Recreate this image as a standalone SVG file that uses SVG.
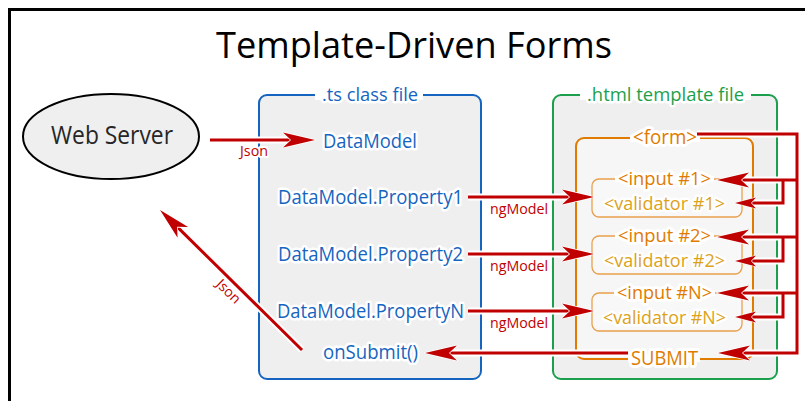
<svg xmlns="http://www.w3.org/2000/svg" width="805" height="401" viewBox="0 0 805 401">
<style>
.t{font-family:"Open Sans","Liberation Sans",sans-serif;text-anchor:middle}
.halo{paint-order:stroke;stroke:#fff;stroke-linejoin:round}
.blue{fill:#1565c0}
.green{fill:#1c9f4c}
.orange{fill:#e07b00}
.gold{fill:#dca21a}
.red{fill:#c00000}
.h{fill:none;stroke:#fff;stroke-width:7}
.c{fill:none;stroke:#c00000;stroke-width:3}
.gap{fill:#fff}
.grp{fill:#f8f8f8;stroke:#e9a04c;stroke-width:1.3}
</style>
<defs>
<marker id="big" markerUnits="userSpaceOnUse" orient="auto" refX="0" refY="0" markerWidth="40" markerHeight="20" overflow="visible">
<path d="M22,0 L-10,-7.5 L-2,0 L-10,7.5 Z" fill="#c00000" stroke="#fff" stroke-width="1.5" paint-order="stroke" stroke-linejoin="round"/>
</marker>
<marker id="small" markerUnits="userSpaceOnUse" orient="auto" refX="0" refY="0" markerWidth="30" markerHeight="16" overflow="visible">
<path d="M14,0 L-7,-5.5 L-2,0 L-7,5.5 Z" fill="#c00000" stroke="#fff" stroke-width="1.2" paint-order="stroke" stroke-linejoin="round"/>
</marker>
</defs>
<rect x="0" y="0" width="805" height="401" fill="#fff"/>
<rect x="9.5" y="9.5" width="820" height="420" fill="none" stroke="#000" stroke-width="3"/>
<text class="t" x="414" y="58" font-size="37" fill="#000" textLength="396" lengthAdjust="spacingAndGlyphs">Template-Driven Forms</text>

<g id="web-server">
<ellipse cx="111" cy="136.5" rx="88" ry="42.5" fill="#efefef" stroke="#000" stroke-width="2"/>
<text class="t" x="112" y="144" font-size="25" fill="#262626" textLength="122" lengthAdjust="spacingAndGlyphs">Web Server</text>
</g>

<g id="ts-class-file">
<rect x="259" y="95" width="222" height="284" rx="8" fill="#efefef" stroke="#1565c0" stroke-width="2"/>
<rect class="gap" x="315" y="90" width="108" height="10"/>
<text class="t blue halo" x="370" y="101" font-size="19" stroke-width="5" textLength="96" lengthAdjust="spacingAndGlyphs">.ts class file</text>
</g>

<g id="html-template-file">
<rect x="553" y="95" width="224" height="284" rx="8" fill="#efefef" stroke="#1c9f4c" stroke-width="2"/>
<rect class="gap" x="580" y="90" width="171" height="10"/>
<text class="t green halo" x="665.5" y="101" font-size="19" stroke-width="5" textLength="157" lengthAdjust="spacingAndGlyphs">.html template file</text>
</g>

<g id="form">
<rect x="576" y="138" width="177" height="221" rx="8" fill="#f6f6f6" stroke="#e07b00" stroke-width="2"/>
<rect class="gap" x="630" y="135" width="70" height="7"/>
<text class="t orange halo" x="665" y="144" font-size="20" stroke-width="6" textLength="64" lengthAdjust="spacingAndGlyphs">&lt;form&gt;</text>
</g>

<g id="group-1">
<rect class="grp" x="592" y="179" width="150" height="38" rx="7"/>
<rect class="gap" x="615" y="176" width="99" height="6"/>
<text class="t orange halo" x="664.5" y="185" font-size="19" stroke-width="6" textLength="93" lengthAdjust="spacingAndGlyphs">&lt;input #1&gt;</text>
<text class="t gold halo" x="664.5" y="210" font-size="19" stroke-width="5" textLength="121" lengthAdjust="spacingAndGlyphs">&lt;validator #1&gt;</text>
</g>
<g id="group-2">
<rect class="grp" x="592" y="236" width="150" height="38" rx="7"/>
<rect class="gap" x="615" y="233" width="99" height="6"/>
<text class="t orange halo" x="664.5" y="242" font-size="19" stroke-width="6" textLength="93" lengthAdjust="spacingAndGlyphs">&lt;input #2&gt;</text>
<text class="t gold halo" x="664.5" y="267" font-size="19" stroke-width="5" textLength="121" lengthAdjust="spacingAndGlyphs">&lt;validator #2&gt;</text>
</g>
<g id="group-n">
<rect class="grp" x="592" y="293" width="150" height="38" rx="7"/>
<rect class="gap" x="614" y="290" width="101" height="6"/>
<text class="t orange halo" x="664.5" y="299" font-size="19" stroke-width="6" textLength="95" lengthAdjust="spacingAndGlyphs">&lt;input #N&gt;</text>
<text class="t gold halo" x="664.5" y="324" font-size="19" stroke-width="5" textLength="123" lengthAdjust="spacingAndGlyphs">&lt;validator #N&gt;</text>
</g>

<g id="connectors">
<path class="h" d="M210,140 H293"/>
<path class="h" d="M468,197 H572"/>
<path class="h" d="M468,254 H572"/>
<path class="h" d="M468,311 H572"/>
<path class="h" d="M628,353 H447"/>
<path class="h" d="M302,350 L175.7,225.4"/>
<path class="h" d="M697,134 H797 V353 H740"/>
<path class="h" d="M797,180 H739 M797,237 H739 M797,293 H739"/>
<path class="h" d="M783,180 V203 H749 M783,237 V261 H749 M783,293 V317 H749"/>

<path class="c" d="M210,140 H293" marker-end="url(#big)" stroke-width="2.5"/>
<path class="c" d="M468,197 H572" marker-end="url(#big)"/>
<path class="c" d="M468,254 H572" marker-end="url(#big)"/>
<path class="c" d="M468,311 H572" marker-end="url(#big)"/>
<path class="c" d="M628,353 H447" marker-end="url(#big)"/>
<path class="c" d="M302,350 L175.7,225.4" marker-end="url(#big)" stroke-width="2.5"/>
<path class="c" d="M697,134 H797 V353 H740" marker-end="url(#big)"/>
<path class="c" d="M797,180 H739" marker-end="url(#big)"/>
<path class="c" d="M797,237 H739" marker-end="url(#big)"/>
<path class="c" d="M797,293 H739" marker-end="url(#big)"/>
<path class="c" d="M783,180 V203 H749" marker-end="url(#small)"/>
<path class="c" d="M783,237 V261 H749" marker-end="url(#small)"/>
<path class="c" d="M783,293 V317 H749" marker-end="url(#small)"/>

<text class="t red halo" x="254" y="156" font-size="14" stroke-width="4" textLength="28" lengthAdjust="spacingAndGlyphs">Json</text>
<text class="t red halo" transform="translate(228,292) rotate(44.6)" x="0" y="4" font-size="14" stroke-width="4" textLength="28" lengthAdjust="spacingAndGlyphs">Json</text>
<text class="t red halo" x="519" y="214" font-size="15" stroke-width="4" textLength="58" lengthAdjust="spacingAndGlyphs">ngModel</text>
<text class="t red halo" x="519" y="271" font-size="15" stroke-width="4" textLength="58" lengthAdjust="spacingAndGlyphs">ngModel</text>
<text class="t red halo" x="519" y="328" font-size="15" stroke-width="4" textLength="58" lengthAdjust="spacingAndGlyphs">ngModel</text>
</g>

<g id="ts-members">
<text class="t blue halo" x="370" y="148" font-size="20" stroke-width="5" textLength="94" lengthAdjust="spacingAndGlyphs">DataModel</text>
<text class="t blue halo" x="370.5" y="204" font-size="20" stroke-width="5" textLength="185" lengthAdjust="spacingAndGlyphs">DataModel.Property1</text>
<text class="t blue halo" x="370.5" y="261" font-size="20" stroke-width="5" textLength="185" lengthAdjust="spacingAndGlyphs">DataModel.Property2</text>
<text class="t blue halo" x="370.5" y="318" font-size="20" stroke-width="5" textLength="187" lengthAdjust="spacingAndGlyphs">DataModel.PropertyN</text>
<text class="t blue halo" x="370.5" y="359" font-size="20" stroke-width="5" textLength="95" lengthAdjust="spacingAndGlyphs">onSubmit()</text>
</g>

<g id="submit">
<rect class="gap" x="628" y="355" width="72" height="7"/>
<text class="t orange halo" x="664.5" y="365" font-size="20" stroke-width="6" textLength="67" lengthAdjust="spacingAndGlyphs">SUBMIT</text>
</g>
</svg>
